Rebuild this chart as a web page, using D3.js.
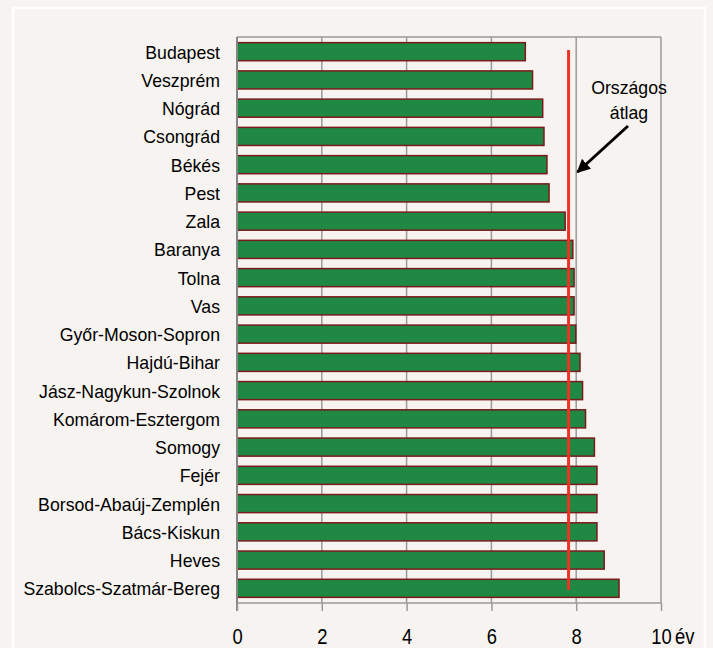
<!DOCTYPE html>
<html>
  <head>
    <meta charset="utf-8">
    <script src="https://cdn.jsdelivr.net/npm/d3@7/dist/d3.min.js"></script>
    <style type="text/css">
      body { margin: 0; background: #f7f3f0; }
      text { font-family: "Liberation Sans", Arial, sans-serif; fill: #000; }
      .axis path { display: none; }
      .axis line { stroke: #9a9a9a; stroke-width: 1.5; }
    </style>
  </head>
  <body>
    <div class="plot_canvas"></div>
    <script>
      var counties = ["Budapest", "Veszprém", "Nógrád", "Csongrád", "Békés", "Pest", "Zala",
        "Baranya", "Tolna", "Vas", "Győr-Moson-Sopron", "Hajdú-Bihar", "Jász-Nagykun-Szolnok",
        "Komárom-Esztergom", "Somogy", "Fejér", "Borsod-Abaúj-Zemplén", "Bács-Kiskun", "Heves",
        "Szabolcs-Szatmár-Bereg"];
      var years = [6.80, 6.97, 7.21, 7.24, 7.31, 7.36, 7.74, 7.92, 7.95, 7.95, 7.99, 8.09, 8.15,
        8.22, 8.43, 8.49, 8.49, 8.49, 8.66, 9.01];
      var average = 7.82;
      var xTicks = [0, 2, 4, 6, 8, 10];
      var unitLabel = "év";
      var noteLines = ["Országos", "átlag"];

      var width = 713, height = 648;
      var margin = {top: 37, right: 52, bottom: 45, left: 237};

      var xScale = d3.scaleLinear()
      .domain([0, 10])
      .range([margin.left, width - margin.right]);

      var yScale = d3.scaleBand()
      .domain(counties)
      .range([margin.top, height - margin.bottom])
      .paddingInner(0.36)
      .paddingOuter(0.2);

      var svg = d3.select(".plot_canvas").append("svg")
      .attr("width", width)
      .attr("height", height);

      svg.append("rect")
      .attr("width", width).attr("height", height)
      .attr("fill", "#f7f3f0");

      // white frame
      svg.append("rect")
      .attr("x", 13).attr("y", 8)
      .attr("width", 692).attr("height", 660)
      .attr("fill", "none")
      .attr("stroke", "#ffffff")
      .attr("stroke-width", 2.5);

      var plotTop = margin.top, plotBottom = height - margin.bottom;

      // grid lines
      svg.append("g").selectAll("line")
      .data(xTicks.slice(1)).enter()
      .append("line")
      .attr("x1", function(d) { return xScale(d); })
      .attr("x2", function(d) { return xScale(d); })
      .attr("y1", plotTop).attr("y2", plotBottom)
      .attr("stroke", "#9a9a9a")
      .attr("stroke-width", 1.5);

      svg.append("line")
      .attr("x1", xScale(0)).attr("x2", xScale(10))
      .attr("y1", plotTop).attr("y2", plotTop)
      .attr("stroke", "#9a9a9a").attr("stroke-width", 1.5);

      svg.append("line")
      .attr("x1", xScale(0)).attr("x2", xScale(10))
      .attr("y1", plotBottom).attr("y2", plotBottom)
      .attr("stroke", "#9a9a9a").attr("stroke-width", 1.5);

      // bars
      svg.append("g").selectAll("rect")
      .data(years).enter()
      .append("rect")
      .attr("x", xScale(0))
      .attr("y", function(d, i) { return yScale(counties[i]); })
      .attr("width", function(d) { return xScale(d) - xScale(0); })
      .attr("height", yScale.bandwidth())
      .attr("fill", "#1f8944")
      .attr("stroke", "#7b1a1c")
      .attr("stroke-width", 1.5);

      // left axis line
      svg.append("line")
      .attr("x1", xScale(0)).attr("x2", xScale(0))
      .attr("y1", plotTop).attr("y2", plotBottom + 8)
      .attr("stroke", "#858585").attr("stroke-width", 2);

      // category labels
      svg.append("g").selectAll("text")
      .data(counties).enter()
      .append("text")
      .attr("x", 220)
      .attr("y", function(d) { return yScale(d) + yScale.bandwidth() / 2; })
      .attr("dy", "0.4em")
      .attr("text-anchor", "end")
      .style("font-size", "17.7px")
      .text(function(d) { return d; });

      // bottom axis
      var xAxis = d3.axisBottom(xScale)
      .tickValues(xTicks)
      .tickSize(8)
      .tickFormat(d3.format("d"));

      var gx = svg.append("g")
      .attr("class", "axis")
      .attr("transform", "translate(0," + plotBottom + ")")
      .call(xAxis);

      gx.selectAll("text")
      .attr("y", 0)
      .attr("dy", 0)
      .attr("transform", "translate(0,40.5) scale(1,1.15)")
      .style("font-size", "18.4px")
      .style("fill", "#000");

      svg.append("text")
      .attr("x", xScale(10) + 14)
      .attr("y", 0)
      .attr("transform", "translate(0," + (plotBottom + 40.5) + ") scale(1,1.15)")
      .style("font-size", "18.4px")
      .text(unitLabel);

      // average line
      svg.append("line")
      .attr("x1", xScale(average)).attr("x2", xScale(average))
      .attr("y1", 50).attr("y2", 590)
      .attr("stroke", "#ec3326")
      .attr("stroke-width", 3);

      // annotation
      svg.append("g").selectAll("text")
      .data(noteLines).enter()
      .append("text")
      .attr("x", 629)
      .attr("y", function(d, i) { return 94 + i * 25; })
      .attr("text-anchor", "middle")
      .style("font-size", "17.7px")
      .text(function(d) { return d; });

      svg.append("defs").append("marker")
      .attr("id", "arrow")
      .attr("viewBox", "0 0 10 10")
      .attr("refX", 9).attr("refY", 5)
      .attr("markerWidth", 4.5).attr("markerHeight", 4.5)
      .attr("orient", "auto")
      .append("path")
      .attr("d", "M0,0 L10,5 L0,10 Z")
      .attr("fill", "#000");

      svg.append("line")
      .attr("x1", 628).attr("y1", 126)
      .attr("x2", xScale(average) + 9).attr("y2", 172)
      .attr("stroke", "#000")
      .attr("stroke-width", 3)
      .attr("marker-end", "url(#arrow)");
    </script>
  </body>
</html>
